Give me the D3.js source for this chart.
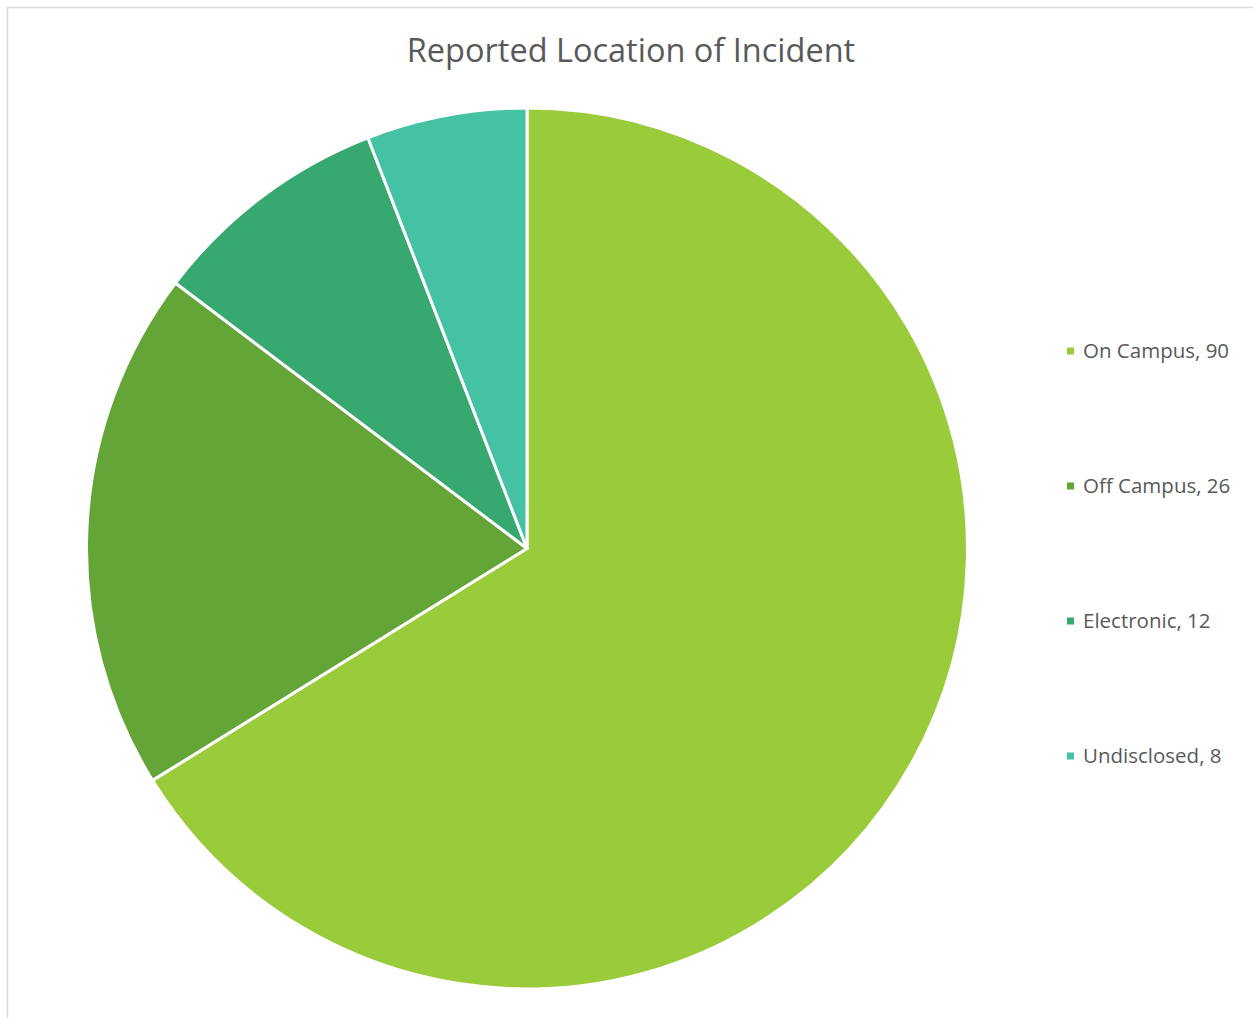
<!DOCTYPE html>
<html>
<head>
<meta charset="utf-8">
<script src="https://cdn.jsdelivr.net/npm/d3@7"></script>
<style>
  html, body { margin: 0; padding: 0; background: #fff; }
  svg { display: block; }
</style>
</head>
<body>
<script>
const title = "Reported Location of Incident";
const categories = ["On Campus", "Off Campus", "Electronic", "Undisclosed"];
const values = [90, 26, 12, 8];
const colors = ["#9ACB3A", "#63A536", "#37A86F", "#45C1A4"];

const W = 1253, H = 1018;
const svg = d3.select("body").append("svg").attr("width", W).attr("height", H);

svg.append("rect")
  .attr("x", 7.5).attr("y", 7.5).attr("width", W + 20).attr("height", H + 20)
  .attr("fill", "#fff").attr("stroke", "#d9d9d9").attr("stroke-width", 1.5);

svg.append("text")
  .attr("x", 631).attr("y", 62)
  .attr("text-anchor", "middle")
  .attr("font-family", "'Open Sans', 'Noto Sans', sans-serif")
  .attr("font-size", 32.5)
  .attr("fill", "#595959")
  .text(title);

const data = categories.map((c, i) => ({ name: c, value: values[i], color: colors[i] }));
const pie = d3.pie().value(d => d.value).sort(null);
const arc = d3.arc().innerRadius(0).outerRadius(440.5);

const g = svg.append("g").attr("transform", "translate(527,548.5)");
g.selectAll("path").data(pie(data)).enter().append("path")
  .attr("d", arc)
  .attr("fill", d => d.data.color)
  .attr("stroke", "#fff")
  .attr("stroke-width", 3)
  .attr("stroke-linejoin", "round");

const legendY = d3.scalePoint().domain(categories).range([351, 756]);
const lg = svg.append("g");
const items = lg.selectAll("g").data(data).enter().append("g")
  .attr("transform", d => `translate(1067,${legendY(d.name)})`);
items.append("rect")
  .attr("x", 0).attr("y", -3.5).attr("width", 7).attr("height", 7)
  .attr("fill", d => d.color);
items.append("text")
  .attr("x", 16).attr("y", 0).attr("dy", "0.35em")
  .attr("font-family", "'Open Sans', 'Noto Sans', sans-serif")
  .attr("font-size", 20.5)
  .attr("fill", "#595959")
  .text(d => `${d.name}, ${d.value}`);
</script>
</body>
</html>
